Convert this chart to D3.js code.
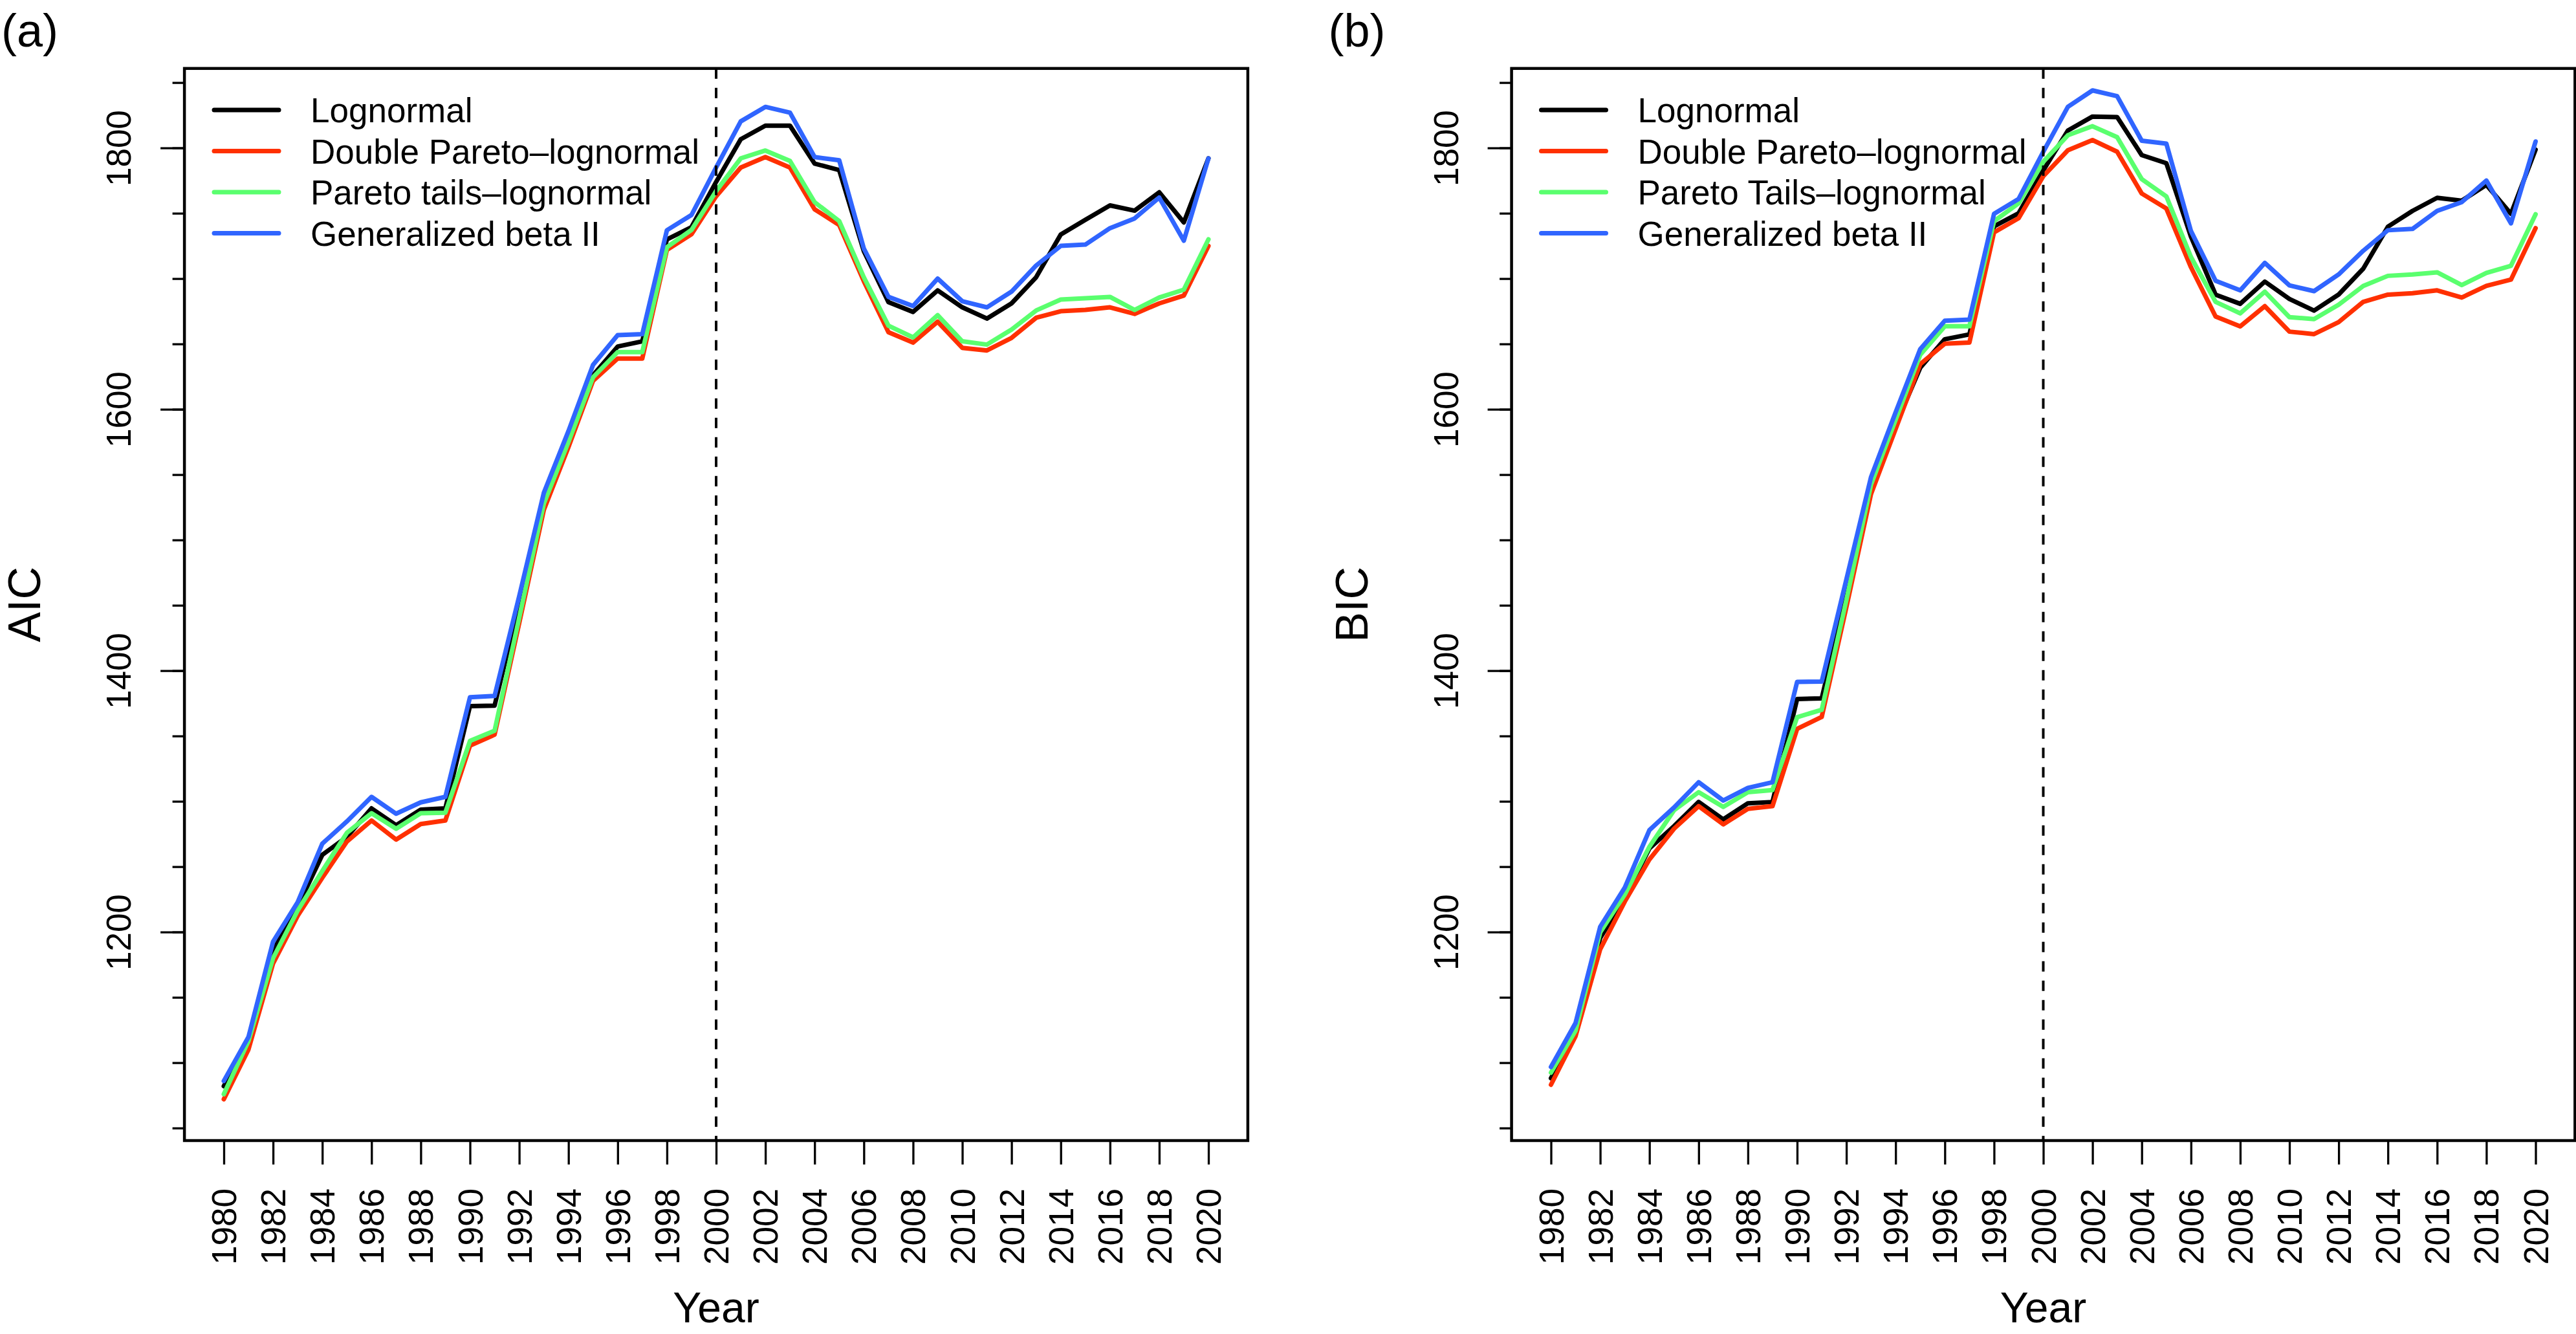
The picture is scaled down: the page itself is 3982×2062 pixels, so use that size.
<!DOCTYPE html>
<html>
<head>
<meta charset="utf-8">
<script src="https://cdn.jsdelivr.net/npm/d3@7"></script>
<style>
    body { margin: 0; background: #fff; }
    text { font-family: "Liberation Sans", Arial, Helvetica, sans-serif; fill: #000; }
</style>
</head>
<body>
<div id="chart"></div>
<script>
const width = 3982, height = 2062;

// data, one value per year 1980..2020
const years = d3.range(1980, 2021);
const series_names_aic = ['Lognormal', 'Double Pareto\u2013lognormal', 'Pareto tails\u2013lognormal', 'Generalized beta II'];
const series_names_bic = ['Lognormal', 'Double Pareto\u2013lognormal', 'Pareto Tails\u2013lognormal', 'Generalized beta II'];
const series_colors = ['#000000', '#FF3000', '#5AFF6E', '#3065FF'];

const aic_lognormal = [1082, 1117.6, 1185.3, 1219.6, 1259, 1272.8, 1294.6, 1281.7, 1293.6, 1294.6,
    1372.8, 1373.2, 1451.5, 1532.5, 1577.8, 1626, 1648, 1652, 1730, 1739.4,
    1774, 1806.6, 1817, 1817, 1788, 1783, 1721, 1682, 1674.5, 1691,
    1678, 1669.4, 1681, 1701, 1733.7, 1745, 1756, 1752, 1766, 1743, 1792];
const aic_dpln = [1072, 1110, 1175.9, 1212.4, 1241.5, 1269.2, 1285.3, 1270.7, 1282.6, 1285.3,
    1342.6, 1351, 1436.3, 1523, 1571, 1621.8, 1638.8, 1638.8, 1722, 1733.9,
    1763, 1785, 1793, 1785, 1753, 1741, 1698, 1659, 1651, 1667,
    1647, 1645, 1654.6, 1670, 1675, 1676, 1678, 1673, 1681, 1687, 1725];
const aic_ptln = [1075.9, 1116.5, 1180, 1216.5, 1246.7, 1275.9, 1290.9, 1279, 1290.9, 1291.3,
    1346.2, 1354, 1440.5, 1527.8, 1575, 1624.5, 1643.8, 1643.8, 1724, 1737.2,
    1767, 1792, 1798, 1790, 1758.5, 1744, 1701, 1664, 1655, 1672,
    1652, 1649.5, 1661, 1675.6, 1684, 1685, 1686, 1676, 1685.5, 1691.5, 1730];
const aic_gb2 = [1086, 1119.6, 1192.6, 1222.8, 1267.6, 1284.6, 1303.4, 1290.5, 1299.2, 1303.4,
    1379.6, 1380.6, 1457, 1536, 1583.3, 1634, 1656.7, 1657.5, 1737, 1748.7,
    1785, 1820.3, 1831.4, 1827, 1793, 1790.5, 1723, 1686, 1679, 1700,
    1682.7, 1678, 1690, 1710, 1725, 1726, 1738.6, 1746, 1762, 1729, 1792];

const bic_lognormal = [1088.1, 1123.5, 1195.4, 1226.5, 1264, 1281, 1299.5, 1286.2, 1298.5, 1299.5,
    1378.3, 1378.8, 1458.3, 1537.9, 1587.6, 1631.7, 1653.6, 1657.3, 1740, 1750,
    1782.8, 1813.3, 1824, 1823.6, 1794.5, 1788.3, 1732, 1687.7, 1680.7, 1697.7,
    1684.4, 1675.5, 1687.8, 1707.6, 1739.7, 1751.8, 1761.8, 1759.6, 1771.7, 1749.6, 1798.7];
const bic_dpln = [1083.1, 1120.3, 1186.8, 1223.3, 1255.5, 1279, 1296.3, 1282.4, 1294.2, 1296.3,
    1355.4, 1364.6, 1448.4, 1535, 1584.8, 1634.5, 1650.2, 1651, 1735.4, 1746.2,
    1778.3, 1798.2, 1806, 1797.1, 1765.1, 1753.6, 1708.7, 1671, 1663.4, 1678.9,
    1659.4, 1657.5, 1666.7, 1682.2, 1687.7, 1688.8, 1691, 1685.5, 1694.4, 1699.2, 1738.6];
const bic_ptln = [1092.4, 1124.6, 1199.7, 1228.7, 1265.2, 1293.1, 1307, 1295.7, 1307, 1308.6,
    1364.4, 1370, 1454, 1542.2, 1591.9, 1641.6, 1663.5, 1663.5, 1743.9, 1757.6,
    1789.4, 1809.7, 1816.6, 1808.2, 1776.1, 1762.9, 1716.5, 1682.2, 1673.4, 1690,
    1670.5, 1669, 1680, 1694.4, 1702.1, 1703.2, 1704.8, 1695, 1704.3, 1709.8, 1749.2];
const bic_gb2 = [1096.7, 1130.4, 1204, 1234, 1278, 1295.3, 1314.6, 1300.6, 1310.3, 1314.6,
    1391.4, 1391.6, 1469.7, 1547.9, 1597.6, 1645.9, 1667.8, 1668.6, 1749.6, 1761,
    1797, 1831.4, 1844, 1839.6, 1805.5, 1803.3, 1736.4, 1698.3, 1691, 1712,
    1694.8, 1690.4, 1703.2, 1721.3, 1737, 1738, 1751.8, 1758.5, 1775, 1742.3, 1804.9];

const x_ticks = d3.range(1980, 2021, 2);
const y_minor_ticks = d3.range(1050, 1851, 50);
const y_major_ticks = [1200, 1400, 1600, 1800];
const cutoff_year = 2000;

// layout (pixels)
const panel_offset = 2051.5;
const box = { left: 285.1, right: 1928.9, top: 105.8, bottom: 1763 };
const base_font = 53;

const xScale = d3.scaleLinear().domain([1978.4, 2021.6]).range([box.left, box.right]);
const yScale = d3.scaleLinear().domain([1040.4, 1860.8]).range([box.bottom, box.top]);

function drawXAxis(g) {
    const axis = g.append('g')
        .attr('class', 'x axis')
        .attr('transform', 'translate(0,' + box.bottom + ')')
        .call(d3.axisBottom(xScale).tickValues(x_ticks).tickSize(37).tickFormat(d3.format('d')));

    axis.select('.domain').remove();
    axis.selectAll('line').attr('stroke', '#000').attr('stroke-width', 3.3);
    axis.selectAll('text')
        .attr('transform', 'rotate(-90)')
        .attr('x', -74)
        .attr('y', 0)
        .attr('dy', '0.35em')
        .style('text-anchor', 'end')
        .style('font-size', base_font + 'px')
        .style('font-family', '"Liberation Sans", Arial, sans-serif')
        .attr('fill', '#000');
}

function drawYAxis(g) {
    const minor = g.append('g')
        .attr('class', 'y axis minor')
        .attr('transform', 'translate(' + box.left + ',0)')
        .call(d3.axisLeft(yScale).tickValues(y_minor_ticks).tickSize(18.5).tickFormat(''));
    minor.select('.domain').remove();
    minor.selectAll('line').attr('stroke', '#000').attr('stroke-width', 3.3);

    const major = g.append('g')
        .attr('class', 'y axis major')
        .attr('transform', 'translate(' + box.left + ',0)')
        .call(d3.axisLeft(yScale).tickValues(y_major_ticks).tickSize(37).tickFormat(d3.format('d')));
    major.select('.domain').remove();
    major.selectAll('line').attr('stroke', '#000').attr('stroke-width', 3.3);
    major.selectAll('text')
        .attr('transform', 'rotate(-90)')
        .attr('x', 0)
        .attr('y', -83)
        .attr('dy', 0)
        .style('text-anchor', 'middle')
        .style('font-size', base_font + 'px')
        .style('font-family', '"Liberation Sans", Arial, sans-serif')
        .attr('fill', '#000');
}

function drawLines(g, series) {
    const line = d3.line()
        .x((d, i) => xScale(years[i]))
        .y(d => yScale(d));

    g.append('g')
        .attr('class', 'lines')
        .selectAll('path')
        .data(series)
        .enter().append('path')
        .attr('d', d => line(d))
        .attr('fill', 'none')
        .attr('stroke', (d, i) => series_colors[i])
        .attr('stroke-width', 7)
        .attr('stroke-linejoin', 'round')
        .attr('stroke-linecap', 'round');
}

function drawLegend(g, names) {
    const legend = g.append('g').attr('class', 'legend');
    names.forEach((name, i) => {
        const ly = 170 + i * 63.5;
        legend.append('line')
            .attr('x1', 331).attr('x2', 431)
            .attr('y1', ly).attr('y2', ly)
            .attr('stroke', series_colors[i])
            .attr('stroke-width', 7)
            .attr('stroke-linecap', 'round');
        legend.append('text')
            .attr('x', 480)
            .attr('y', ly + 19)
            .style('font-size', base_font + 'px')
            .text(name);
    });
}

function drawPanel(svg, offset, tag, ylabel, series, names) {
    const g = svg.append('g').attr('transform', `translate(${offset},0)`);

    drawLines(g, series);

    // cut-off year
    g.append('line')
        .attr('x1', xScale(cutoff_year)).attr('x2', xScale(cutoff_year))
        .attr('y1', box.top).attr('y2', box.bottom)
        .attr('stroke', '#000')
        .attr('stroke-width', 4)
        .attr('stroke-dasharray', '16,14');

    g.append('rect')
        .attr('x', box.left).attr('y', box.top)
        .attr('width', box.right - box.left)
        .attr('height', box.bottom - box.top)
        .attr('fill', 'none')
        .attr('stroke', '#000')
        .attr('stroke-width', 4.5);

    drawXAxis(g);
    drawYAxis(g);
    drawLegend(g, names);

    g.append('text')
        .attr('x', 2)
        .attr('y', 72)
        .style('font-size', '72px')
        .text(tag);

    g.append('text')
        .attr('transform', `translate(62, ${(box.top + box.bottom) / 2}) rotate(-90)`)
        .style('text-anchor', 'middle')
        .style('font-size', '70px')
        .text(ylabel);

    g.append('text')
        .attr('x', (box.left + box.right) / 2)
        .attr('y', 2044)
        .style('text-anchor', 'middle')
        .style('font-size', '66px')
        .text('Year');
}

function main() {
    const svg = d3.select('#chart')
        .append('svg')
        .attr('width', width)
        .attr('height', height)
        .style('display', 'block')
        .style('background', '#fff');

    drawPanel(svg, 0, '(a)', 'AIC',
        [aic_lognormal, aic_dpln, aic_ptln, aic_gb2], series_names_aic);
    drawPanel(svg, panel_offset, '(b)', 'BIC',
        [bic_lognormal, bic_dpln, bic_ptln, bic_gb2], series_names_bic);
}

main();
</script>
</body>
</html>
